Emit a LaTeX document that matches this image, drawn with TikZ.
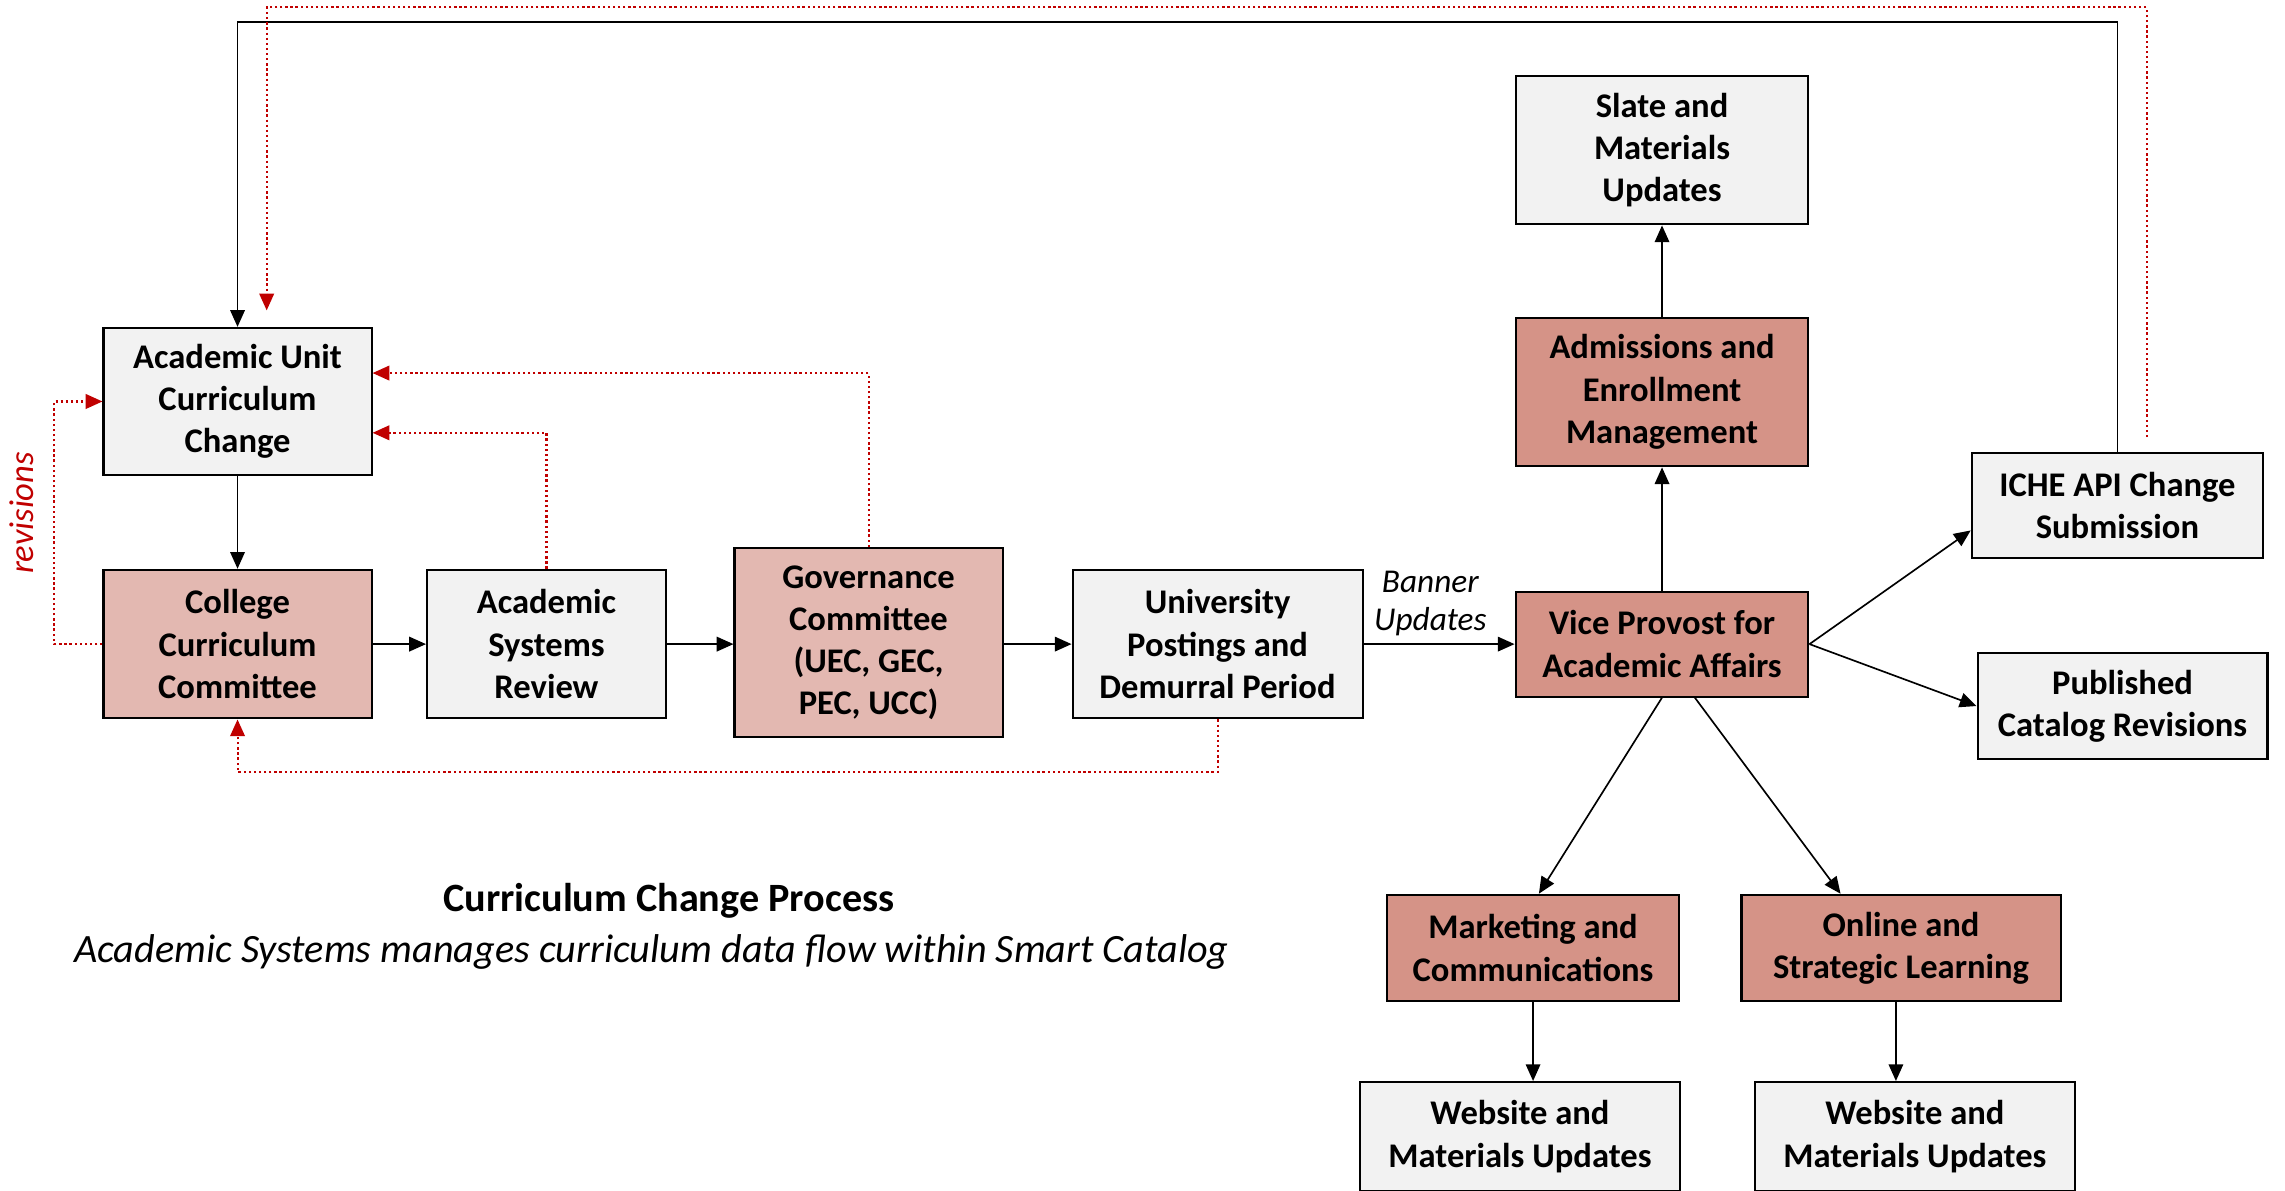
\documentclass[tikz,border=0pt]{standalone}
\usepackage{fontspec}
\setmainfont{Carlito}
\usetikzlibrary{arrows.meta}
\definecolor{boxgray}{HTML}{F2F2F2}
\definecolor{lightrose}{HTML}{E3B8B1}
\definecolor{rose}{HTML}{D59387}
\definecolor{revred}{HTML}{C00000}
\begin{document}
\begin{tikzpicture}[x=0.02cm,y=-0.02cm,
    box/.style={draw,line width=0.8pt,align=center,inner sep=2pt,
      font=\fontsize{13.5}{16.5}\selectfont\bfseries},
    graybox/.style={box,fill=boxgray},
    pinkbox/.style={box,fill=lightrose},
    rosebox/.style={box,fill=rose},
    arr/.style={line width=0.65pt,-{Triangle[length=0.23cm,width=0.2cm]}},
    rev/.style={revred,line width=0.8pt,dash pattern=on 0.9pt off 1.1pt,
      -{Triangle[length=0.23cm,width=0.2cm]}}]
    \useasboundingbox (0,0) rectangle (1568,817);
    % left side: unit, committees and review
    \node [graybox,minimum width=3.68cm,minimum height=2.02cm] (acu) at (163,275.5) {Academic Unit\\Curriculum\\Change};
    \node [pinkbox,minimum width=3.68cm,minimum height=2.04cm] (ccc) at (163,442) {College\\Curriculum\\Committee};
    \node [graybox,minimum width=3.28cm,minimum height=2.04cm] (asr) at (375,442) {Academic\\Systems\\Review};
    \node [pinkbox,minimum width=3.68cm,minimum height=2.6cm] (gov) at (596,441) {Governance\\Committee\\(UEC, GEC,\\PEC, UCC)};
    \node [graybox,minimum width=3.98cm,minimum height=2.04cm] (upd) at (835.5,442) {University\\Postings and\\Demurral Period};
    % right side: vice provost and what follows
    \node [rosebox,minimum width=4.02cm,minimum height=1.44cm] (vpa) at (1140.5,442) {Vice Provost for\\Academic Affairs};
    \node [rosebox,minimum width=4.02cm,minimum height=2.04cm] (aem) at (1140.5,269) {Admissions and\\Enrollment\\Management};
    \node [graybox,minimum width=4.02cm,minimum height=2.04cm] (smu) at (1140.5,103) {Slate and\\Materials\\Updates};
    \node [graybox,minimum width=4cm,minimum height=1.44cm] (iche) at (1453,347) {ICHE API Change\\Submission};
    \node [graybox,minimum width=3.98cm,minimum height=1.46cm] (pcr) at (1456.5,484.5) {Published\\Catalog Revisions};
    \node [rosebox,minimum width=4cm,minimum height=1.46cm] (mac) at (1052,650.5) {Marketing and\\Communications};
    \node [rosebox,minimum width=4.38cm,minimum height=1.46cm] (osl) at (1304.5,650.5) {Online and\\Strategic Learning};
    \node [graybox,minimum width=4.4cm,minimum height=1.5cm] (web1) at (1043,780) {Website and\\Materials Updates};
    \node [graybox,minimum width=4.4cm,minimum height=1.5cm] (web2) at (1314,780) {Website and\\Materials Updates};

    \node [font=\fontsize{15.7}{18}\selectfont\bfseries] (title) at (459,618) {Curriculum Change Process};
    \node [font=\fontsize{15.7}{18}\selectfont\itshape] (subtitle) at (447,653) {Academic Systems manages curriculum data flow within Smart Catalog};
    \node [rotate=90,revred,font=\fontsize{13.5}{15}\selectfont\itshape] (revlabel) at (15,352) {revisions};

    % main flow
    \draw [arr] (acu) -- (ccc);
    \draw [arr] (ccc) -- (asr);
    \draw [arr] (asr.east) -- (asr.east -| gov.west);
    \draw [arr] (gov.east |- upd.west) -- (upd.west);
    \draw [arr] (upd) -- node [above,align=center,inner sep=3pt,xshift=-0.12cm,font=\fontsize{13}{14.7}\selectfont\itshape] (banner) {Banner\\Updates} (vpa);
    \draw [arr] (vpa) -- (aem);
    \draw [arr] (aem) -- (smu);
    \draw [arr] (vpa.east) -- ([yshift=-0.34cm]iche.west);
    \draw [arr] (vpa.east) -- (pcr.west);
    \draw [arr] (vpa.south) -- ([xshift=0.08cm]mac.north);
    \draw [arr] ([xshift=0.45cm]vpa.south) -- ([xshift=-0.83cm]osl.north);
    \draw [arr] (mac) -- (mac.south |- web1.north);
    \draw [arr] ([xshift=-0.07cm]osl.south) -- ([xshift=-0.07cm]osl.south |- web2.north);

    % loop back from ICHE
    \coordinate (topblack) at (0,15);
    \draw [arr] (iche.north) -- (iche.north |- topblack) -| (acu.north);
    \coordinate (toprev) at (0,5);
    \coordinate (revstart) at (1473,300);
    \coordinate (revend) at (183,213);
    \draw [rev] (revstart) -- (revstart |- toprev) -| (revend);

    % revisions
    \draw [rev] (gov.north) |- ([yshift=0.39cm]acu.east);
    \draw [rev] (asr.north) |- ([yshift=-0.43cm]acu.east);
    \draw [rev] (ccc.west) -- ++(-33,0) |- (acu.west);
    \draw [rev] (upd.south) -- ++(0,36) -| (ccc.south);
\end{tikzpicture}
\end{document}
